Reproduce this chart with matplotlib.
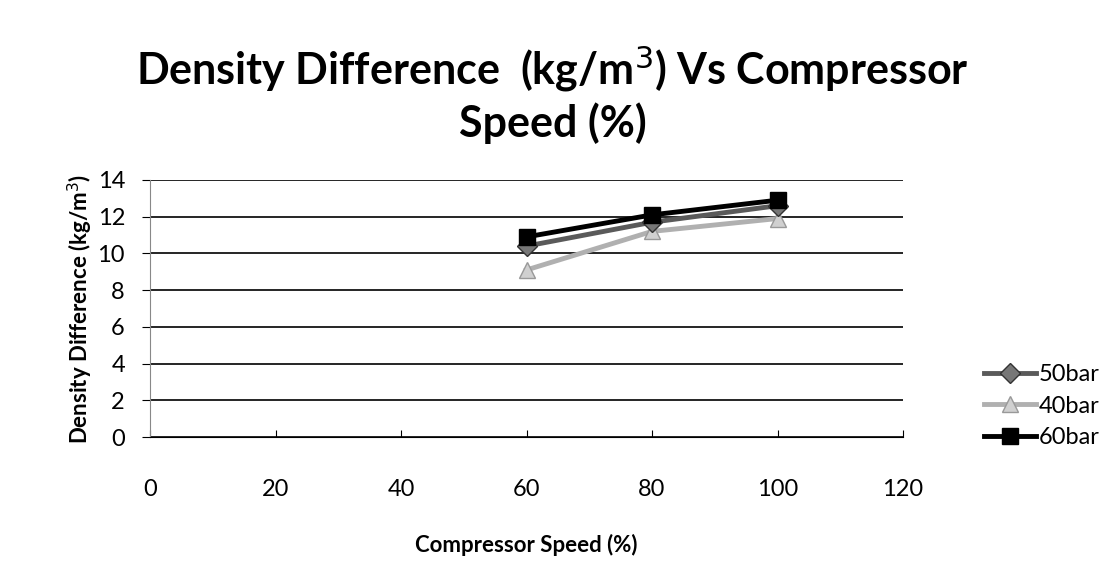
import matplotlib.pyplot as plt

speed = [60, 80, 100]
bar50 = [10.4, 11.7, 12.6]
bar40 = [9.1, 11.2, 11.9]
bar60 = [10.9, 12.1, 12.9]
xticks = [0, 20, 40, 60, 80, 100, 120]
yticks = [0, 2, 4, 6, 8, 10, 12, 14]

plt.rcParams['font.family'] = ['Lato', 'DejaVu Sans']

fig = plt.figure(figsize=(11.05, 5.72), dpi=100)
ax = fig.add_axes([150 / 1105, 1 - 437 / 572, 753 / 1105, 257 / 572])

ax.plot(speed, bar50, color="#5a5a5a", lw=3.5, marker="D", ms=10,
        mfc="#777777", mec="#333333", label="50bar", zorder=3)
ax.plot(speed, bar40, color="#b0b0b0", lw=3.5, marker="^", ms=12,
        mfc="#d0d0d0", mec="#999999", label="40bar", zorder=2)
ax.plot(speed, bar60, color="black", lw=3.5, marker="s", ms=12,
        label="60bar", zorder=4)

ax.set_xlim(0, 120)
ax.set_ylim(0, 14)
ax.set_xticks(xticks)
ax.set_yticks(yticks)
ax.grid(axis="y", color="black", lw=1.2)
for s in ["top", "right"]:
    ax.spines[s].set_visible(False)
ax.spines["left"].set_color("#888888")
ax.spines["bottom"].set_color("black")
ax.tick_params(axis="x", direction="in", length=5, pad=30, labelsize=17)
ax.tick_params(axis="y", direction="out", length=6, pad=12, labelsize=17)

ax.set_xlabel("Compressor Speed (%)", fontsize=16, fontweight="bold", labelpad=25)
ax.set_ylabel("Density Difference (kg/m$^3$)", fontsize=16, fontweight="bold", labelpad=2)

fig.text(0.5, 0.835, "Density Difference  (kg/m$^3$) Vs Compressor\nSpeed (%)",
         ha="center", va="center", fontsize=31, fontweight="bold", linespacing=1.25)

ax.legend(loc="center left", bbox_to_anchor=(1.08, 0.12), frameon=False,
          fontsize=17, handlelength=2.2, handletextpad=0.1, labelspacing=0.45)

plt.savefig("out.png")
